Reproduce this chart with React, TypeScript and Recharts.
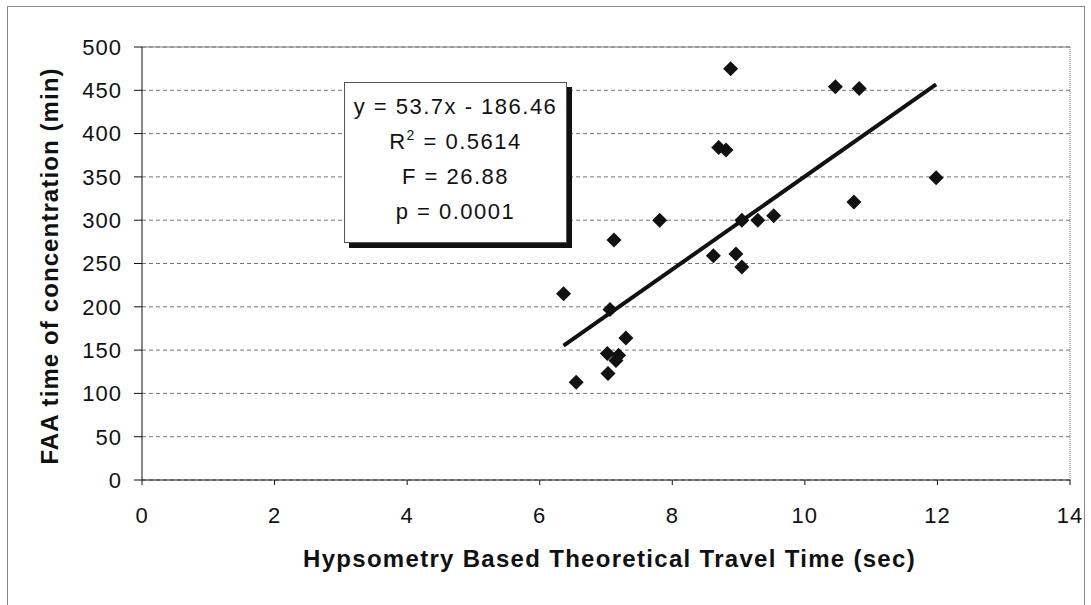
import React from "react";
import { ScatterChart, Scatter, XAxis, YAxis, CartesianGrid, ReferenceLine } from "recharts";

// travel time (sec) vs FAA time of concentration (min)
const travelTime = [8.88, 10.46, 10.82, 8.7, 8.81, 11.98, 10.74, 7.81, 9.05, 9.29, 9.53, 7.12, 8.62, 8.96, 9.05, 6.36, 7.06, 7.3, 7.02, 7.19, 7.15, 7.03, 6.55];
const faaTime = [475, 454, 452, 384, 381, 349, 321, 300, 300, 300, 305, 277, 259, 261, 246, 215, 197, 164, 146, 144, 138, 123, 113];

const xTicks = [0, 2, 4, 6, 8, 10, 12, 14];
const yTicks = [0, 50, 100, 150, 200, 250, 300, 350, 400, 450, 500];

// fitted regression
const slope = 53.7;
const intercept = -186.46;
const statLines = ["y = 53.7x - 186.46", "R2 = 0.5614", "F = 26.88", "p = 0.0001"];

const points = travelTime.map((x, i) => ({ x, y: faaTime[i] }));
const xMin = Math.min(...travelTime);
const xMax = Math.max(...travelTime);
const trend = [
  { x: xMin, y: slope * xMin + intercept },
  { x: xMax, y: slope * xMax + intercept },
];

const font = "'Liberation Sans', Arial, sans-serif";
const tickStyle = { fontSize: 22, fill: "#111", fontFamily: font, letterSpacing: 1 };

function Diamond(props: any) {
  const { cx, cy } = props;
  const r = 7.5;
  return <path d={`M${cx},${cy - r}L${cx + r},${cy}L${cx},${cy + r}L${cx - r},${cy}Z`} fill="#111" />;
}

function StatLine({ text }: { text: string }) {
  if (text.startsWith("R2")) {
    return (
      <div>
        R<sup style={{ fontSize: 14, lineHeight: 0, verticalAlign: 9 }}>2</sup>
        {text.slice(2)}
      </div>
    );
  }
  return <div>{text}</div>;
}

export default function App() {
  return (
    <div style={{ position: "absolute", left: 0, top: 0, width: 1091, height: 605, background: "#fff", overflow: "hidden", fontFamily: font }}>
      <div style={{ position: "absolute", left: 7, top: 6, width: 1076, height: 610, border: "1px solid #888" }} />
      <ScatterChart width={1091} height={605} margin={{ top: 47, right: 21, bottom: 65, left: 82 }}>
        <CartesianGrid vertical={false} stroke="#777" strokeDasharray="4 3" />
        <XAxis
          type="number"
          dataKey="x"
          domain={[0, 14]}
          ticks={xTicks}
          height={60}
          stroke="#111"
          tickSize={5}
          tickMargin={22}
          tick={tickStyle}
          allowDataOverflow
        />
        <YAxis
          type="number"
          dataKey="y"
          domain={[0, 500]}
          ticks={yTicks}
          width={60}
          stroke="#111"
          tickSize={8}
          tickMargin={12}
          tick={tickStyle}
          allowDataOverflow
        />
        <ReferenceLine y={500} stroke="#777" />
        <ReferenceLine x={14} stroke="#777" strokeDasharray="1 1" />
        <ReferenceLine segment={trend} stroke="#111" strokeWidth={4} ifOverflow="visible" />
        <Scatter data={points} shape={<Diamond />} isAnimationActive={false} />
      </ScatterChart>

      <div
        style={{
          position: "absolute",
          left: 344,
          top: 82,
          width: 221,
          height: 153,
          border: "1px solid #555",
          background: "#fff",
          boxShadow: "5px 5px 0 #111",
          textAlign: "center",
          fontSize: 22,
          lineHeight: "35px",
          letterSpacing: 1.5,
          color: "#111",
          paddingTop: 6,
          boxSizing: "content-box",
        }}
      >
        {statLines.map((t) => (
          <StatLine key={t} text={t} />
        ))}
      </div>

      <div
        style={{
          position: "absolute",
          left: 303,
          top: 545,
          width: 600,
          textAlign: "center",
          fontSize: 24,
          fontWeight: "bold",
          letterSpacing: 1.3,
          whiteSpace: "nowrap",
          color: "#111",
          lineHeight: "28px",
        }}
      >
        Hypsometry Based Theoretical Travel Time (sec)
      </div>

      <div
        style={{
          position: "absolute",
          left: 50 - 250,
          top: 266 - 14,
          width: 500,
          textAlign: "center",
          fontSize: 24,
          fontWeight: "bold",
          letterSpacing: 1.1,
          whiteSpace: "nowrap",
          color: "#111",
          lineHeight: "28px",
          transform: "rotate(-90deg)",
        }}
      >
        FAA time of concentration (min)
      </div>
    </div>
  );
}
